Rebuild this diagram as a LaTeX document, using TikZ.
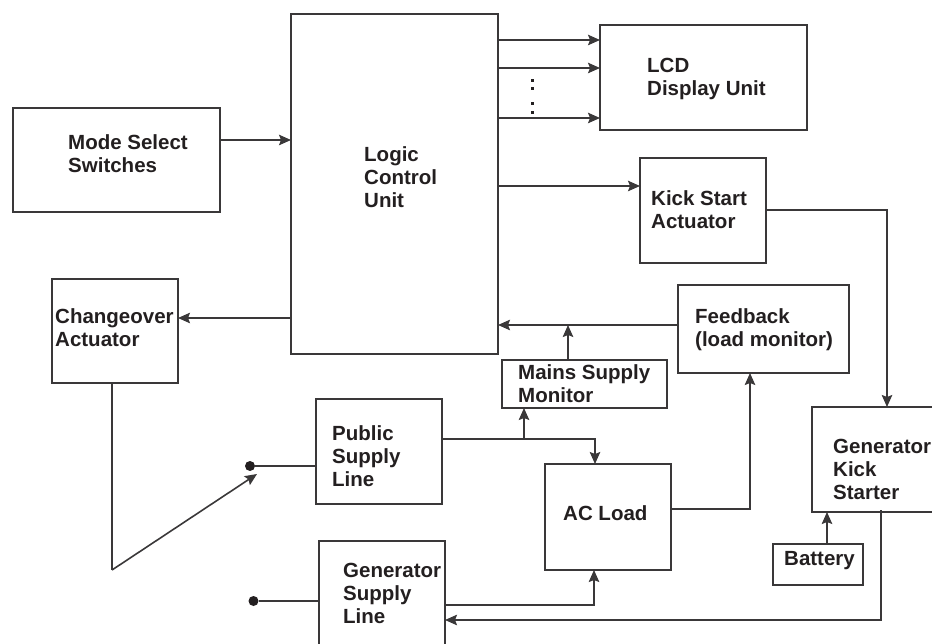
\documentclass[tikz,border=0pt]{standalone}
\usepackage{fontspec}
\setmainfont{Liberation Sans}
\usetikzlibrary{arrows.meta}
\definecolor{ink}{HTML}{231F20}
\definecolor{edge}{HTML}{3A3839}
\tikzset{
  boxs/.style={draw=edge,line width=1.6pt,fill=none,inner sep=0pt,outer sep=0pt},
  txt/.style={anchor=west,align=left,inner sep=0pt,text=ink,font=\fontsize{20.5pt}{23pt}\selectfont\bfseries},
  wire/.style={draw=edge,line width=1.6pt},
  arr/.style={wire,-{Stealth[length=12pt,width=10.5pt,inset=2pt]}},
  term/.style={circle,fill=ink,minimum size=10pt,inner sep=0pt,outer sep=0pt},
  tick/.style={rectangle,fill=ink,minimum size=3pt,inner sep=0pt,outer sep=0pt}
}
\newcommand{\bx}[5]{\node[boxs,minimum width={(#4-#2)*1pt},minimum height={(#5-#3)*1pt}] (#1) at ({(#2+#4)/2},{(#3+#5)/2}) {};}
\begin{document}
\begin{tikzpicture}[x=1pt,y=-1pt]
\useasboundingbox (0,0) rectangle (932,644);
\bx{logic}{291}{14}{498}{354}
\bx{lcd}{600}{25}{807}{130}
\bx{mode}{13}{108}{220}{212}
\bx{kick}{640}{158}{766}{263}
\bx{change}{52}{279}{178}{383}
\bx{feed}{678}{285}{849}{373}
\bx{mains}{502}{360}{667}{408}
\bx{public}{316}{399}{442}{504}
\bx{acload}{545}{464}{671}{570}
\bx{genkick}{812}{407}{936}{512}
\bx{batt}{773}{544}{863}{585}
\bx{gensup}{319}{541}{445}{648}
\node[txt] (tlogic) at (364,177) {Logic\\Control\\Unit};
\node[txt] (tlcd) at (647,79) {LCD\\Display Unit};
\node[txt] (tmode) at (68,154) {Mode Select\\Switches};
\node[txt] (tkick) at (651,210) {Kick Start\\Actuator};
\node[txt] (tchange) at (55,328) {Changeover\\Actuator};
\node[txt] (tfeed) at (695,330) {Feedback\\(load monitor)};
\node[txt] (tmains) at (518,384) {Mains Supply\\Monitor};
\node[txt] (tpublic) at (332,456) {Public\\Supply\\Line};
\node[txt] (tac) at (563,513) {AC Load};
\node[txt] (tgk) at (833,469) {Generator\\Kick\\Starter};
\node[txt] (tbatt) at (784,561) {Battery};
\node[txt] (tgs) at (343,593) {Generator\\Supply\\Line};
\node[term] (t1) at (250,466) {};
\node[term] (t2) at (253.5,601) {};
\coordinate (swtip) at (257,474);
\coordinate (swbase) at (112,570);
\node[tick] (d1) at (532,81) {};
\node[tick] (d2) at (532,89) {};
\node[tick] (d3) at (532,104) {};
\node[tick] (d4) at (532,113) {};
\draw[arr] (mode.east |- 0,140) -- (logic.west |- 0,140);
\draw[arr] (logic.east |- 0,40) -- (lcd.west |- 0,40);
\draw[arr] (logic.east |- 0,68) -- (lcd.west |- 0,68);
\draw[arr] (logic.east |- 0,118) -- (lcd.west |- 0,118);
\draw[arr] (logic.east |- 0,186) -- (kick.west |- 0,186);
\draw[arr] (kick.east |- 0,210) -- (887,210) -- (genkick.north -| 887,0);
\draw[arr] (logic.west |- 0,318) -- (change.east |- 0,318);
\draw[arr] (feed.west |- 0,325) -- (logic.east |- 0,325);
\draw[arr] (mains.north -| 568,0) -- (568,325);
\draw[wire] (change.south -| 112,0) -- (swbase);
\draw[arr] (swbase) -- (swtip);
\draw[wire] (t1) -- (public.west |- t1);
\draw[wire] (t2) -- (gensup.west |- t2);
\draw[arr] (public.east |- 0,439) -- (595,439) -- (acload.north -| 595,0);
\draw[arr] (524,439) -- (mains.south -| 524,0);
\draw[arr] (acload.east |- 0,509) -- (750,509) -- (feed.south -| 750,0);
\draw[arr] (gensup.east |- 0,605) -- (594,605) -- (acload.south -| 594,0);
\draw[arr] (881,510) -- (881,620) -- (gensup.east |- 0,620);
\draw[arr] (batt.north -| 827,0) -- (genkick.south -| 827,0);
\end{tikzpicture}
\end{document}
